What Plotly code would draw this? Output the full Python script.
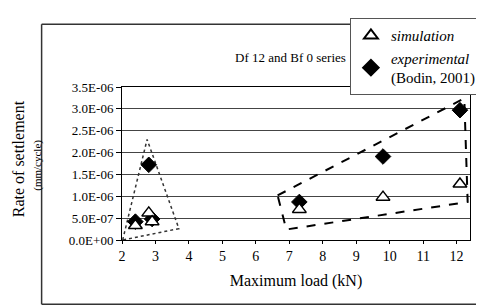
import plotly.graph_objects as go

# Data
sim_x = [2.4, 2.8, 2.9, 7.3, 9.8, 12.1]
sim_y = [0.33e-6, 0.62e-6, 0.42e-6, 0.70e-6, 0.98e-6, 1.28e-6]
exp_x = [2.4, 2.8, 2.9, 7.3, 9.8, 12.1]
exp_y = [0.42e-6, 1.72e-6, 0.48e-6, 0.87e-6, 1.91e-6, 2.97e-6]

# Highlight regions
low_region_x = [2.02, 2.75, 3.7, 2.02]
low_region_y = [0.0, 2.30e-6, 0.26e-6, 0.0]
high_region_x = [6.65, 12.23, 12.33, 6.91, 6.65]
high_region_y = [1.02e-6, 3.24e-6, 0.87e-6, 0.24e-6, 1.02e-6]

x_ticks = [2, 3, 4, 5, 6, 7, 8, 9, 10, 11, 12]
x_ticktext = ["2", "3", "4", "5", "6", "7", "8", "9", "10", "11", "12"]
y_ticks = [0, 0.5e-6, 1.0e-6, 1.5e-6, 2.0e-6, 2.5e-6, 3.0e-6, 3.5e-6]
y_ticktext = ["0.0E+00", "5.0E-07", "1.0E-06", "1.5E-06", "2.0E-06", "2.5E-06", "3.0E-06", "3.5E-06"]

FONT = "Liberation Serif"

fig = go.Figure()

fig.add_trace(go.Scatter(x=low_region_x, y=low_region_y, mode="lines",
                         line=dict(color="#333", width=1.5, dash="dot"),
                         showlegend=False, hoverinfo="skip"))
fig.add_trace(go.Scatter(x=high_region_x, y=high_region_y, mode="lines",
                         line=dict(color="black", width=2, dash="dash"),
                         showlegend=False, hoverinfo="skip"))

fig.add_trace(go.Scatter(x=exp_x, y=exp_y, mode="markers",
                         name="<i>experimental</i><br>(Bodin, 2001)",
                         marker=dict(symbol="diamond", size=12, color="black",
                                     line=dict(color="black", width=1))))
fig.add_trace(go.Scatter(x=sim_x, y=sim_y, mode="markers",
                         name="<i>simulation</i>",
                         marker=dict(symbol="triangle-up", size=12, color="white",
                                     line=dict(color="black", width=1.5))))

fig.update_layout(
    template="none",
    width=484, height=305,
    margin=dict(l=114, r=10, t=71, b=73),
    paper_bgcolor="white", plot_bgcolor="white",
    font=dict(family=FONT, size=13, color="black"),
    showlegend=True,
    legend=dict(x=0.655, y=1.45, xanchor="left", yanchor="top",
                bgcolor="white", bordercolor="#555", borderwidth=1,
                traceorder="reversed", font=dict(family=FONT, size=15, color="black"),
                itemsizing="constant", tracegroupgap=2, itemwidth=30),
    xaxis=dict(range=[2, 12.4], tickvals=x_ticks, ticktext=x_ticktext,
               tickfont=dict(family=FONT, size=14, color="black"),
               showgrid=False, zeroline=False,
               showline=True, linecolor="black", linewidth=1, mirror=True,
               ticks="outside", ticklen=3, tickcolor="black",
               title=dict(text="Maximum load (kN)", font=dict(family=FONT, size=16, color="black"), standoff=12)),
    yaxis=dict(range=[0, 3.5e-6], tickvals=y_ticks, ticktext=y_ticktext,
               tickfont=dict(family=FONT, size=13, color="black"),
               showgrid=True, gridcolor="#444", gridwidth=1, zeroline=False,
               showline=True, linecolor="black", linewidth=1, mirror=True,
               ticks="outside", ticklen=5, tickcolor="black"),
    annotations=[
        dict(text="Df 12 and Bf 0 series", xref="paper", yref="paper",
             x=0.32, y=1.255, showarrow=False, font=dict(family=FONT, size=13)),
        dict(text="Rate of settlement", xref="paper", yref="paper",
             x=-0.295, y=0.53, xanchor="center", yanchor="middle",
             textangle=-90, showarrow=False, font=dict(family=FONT, size=16)),
        dict(text="(mm/cycle)", xref="paper", yref="paper",
             x=-0.245, y=0.49, xanchor="center", yanchor="middle",
             textangle=-90, showarrow=False, font=dict(family=FONT, size=11)),
    ],
    shapes=[
        dict(type="line", xref="paper", yref="paper", x0=-0.231, x1=-0.231, y0=1.41, y1=-0.42,
             line=dict(color="#333", width=1.5)),
        dict(type="line", xref="paper", yref="paper", x0=-0.231, x1=1.03, y0=1.41, y1=1.41,
             line=dict(color="#333", width=1.5)),
        dict(type="line", xref="paper", yref="paper", x0=-0.231, x1=1.03, y0=-0.42, y1=-0.42,
             line=dict(color="#333", width=1.5)),
    ],
)

fig.write_html("out.html")
